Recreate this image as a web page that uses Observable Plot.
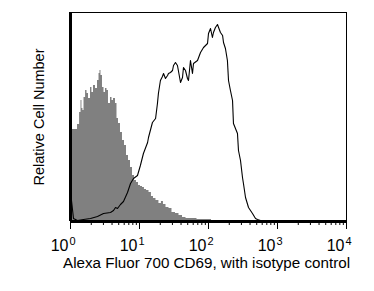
<!DOCTYPE html>
<html><head><meta charset="utf-8">
<script src="https://cdn.jsdelivr.net/npm/d3@7"></script>
<script src="https://cdn.jsdelivr.net/npm/@observablehq/plot@0.6"></script>
<style>html,body{margin:0;padding:0;background:#fff}</style>
</head><body><div id="chart"></div>
<script>
// Isotype control (gray filled histogram)
const isotypeIntensity = [1.0, 1.034, 1.105, 1.22, 1.31, 1.40, 1.44, 1.49, 1.54, 1.60, 1.71, 1.76, 1.89, 2.01, 2.08, 2.23, 2.38, 2.55, 2.63, 2.72, 2.81, 3.01, 3.11, 3.32, 3.44, 3.67, 3.93, 4.06, 4.34, 4.64, 4.80, 5.13, 5.48, 5.86, 6.27, 6.70, 7.16, 7.66, 8.19, 8.75, 9.35, 10.0, 10.7, 11.4, 12.2, 13.1, 14.4, 15.4, 16.5, 18.2, 20.1, 21.5, 23.0, 25.5, 28.1, 31.1, 35.5, 39.3, 44.9, 49.6, 60.6, 76.6, 96.8, 126, 176, 246];
const isotypeCount = [90, 90, 92, 92, 97, 109, 121, 113, 111, 124, 131, 128, 123, 134, 129, 136, 133, 141, 148, 151, 146, 134, 129, 133, 131, 118, 124, 121, 123, 118, 103, 98, 89, 81, 76, 66, 61, 54, 46, 41, 39, 36, 35, 34, 32, 31, 29, 25, 23, 21, 18, 20, 17, 14, 13, 9, 8, 6, 4, 3, 3, 2, 2, 1, 1, 0];

// Alexa Fluor 700 CD69 (black outline)
const cd69Intensity = [1.034, 1.105, 1.26, 1.54, 1.95, 2.46, 3.01, 3.80, 4.20, 4.49, 4.80, 5.30, 5.86, 6.70, 7.41, 8.19, 9.35, 10.3, 11.4, 13.1, 13.5, 15.4, 17.1, 18.2, 18.8, 20.1, 21.5, 22.3, 23.8, 25.5, 26.3, 28.1, 30.1, 31.1, 33.2, 35.5, 39.3, 42.0, 43.4, 46.4, 49.6, 51.3, 54.8, 58.6, 60.6, 69.3, 76.6, 84.7, 96.8, 100, 107, 114, 118, 126, 135, 140, 149, 160, 165, 176, 188, 195, 208, 223, 230, 263, 272, 291, 311, 321, 344, 380, 434, 480, 513, 567, 627];
const cd69Count = [21, 3, 1, 2, 3, 5, 8, 9, 11, 14, 13, 17, 20, 29, 38, 43, 46, 56, 68, 79, 84, 99, 103, 118, 128, 141, 145, 148, 143, 146, 148, 149, 151, 156, 159, 156, 139, 144, 154, 151, 143, 141, 161, 148, 158, 161, 169, 174, 178, 188, 193, 184, 189, 194, 197, 194, 189, 186, 179, 173, 161, 141, 131, 121, 98, 88, 71, 61, 44, 38, 24, 14, 8, 3, 2, 1, 0];

const decadeExponents = [0, 1, 2, 3, 4];
const tickBase = "10";
const xTitle = "Alexa Fluor 700 CD69, with isotype control";
const yTitle = "Relative Cell Number";

const iso = isotypeIntensity.map((x, i) => ({x, y: isotypeCount[i]}));
const cd = cd69Intensity.map((x, i) => ({x, y: cd69Count[i]}));
const majors = decadeExponents.map(e => ({e, v: 10 ** e}));
const minors = [];
for (const e of decadeExponents.slice(0, -1)) for (let m = 2; m <= 9; m++) minors.push(m * 10 ** e);

const font = "'Liberation Sans', Arial, sans-serif";
const chart = Plot.plot({
  width: 374, height: 291,
  marginLeft: 70, marginRight: 28, marginTop: 12, marginBottom: 70,
  style: {fontFamily: font, background: "#fff", color: "#000"},
  x: {type: "log", domain: [1, 1e4], axis: null},
  y: {domain: [0, 209], axis: null},
  marks: [
    Plot.areaY(iso, {x: "x", y: "y", fill: "#808080", curve: "step"}),
    Plot.line(cd, {x: "x", y: "y", stroke: "#000", strokeWidth: 1.1}),
    Plot.frame({stroke: "#000", strokeWidth: 1}),
    Plot.axisX(minors, {tickSize: 4, tickFormat: () => "", label: null, strokeWidth: 1}),
    Plot.axisX(majors.map(d => d.v), {tickSize: 8, tickFormat: () => "", label: null, strokeWidth: 1}),
    Plot.ruleX([1], {stroke: "#000", strokeWidth: 3}),
    Plot.ruleY([0], {stroke: "#000", strokeWidth: 3}),
    Plot.text(majors, {x: "v", frameAnchor: "bottom", text: () => tickBase, textAnchor: "end", dx: -2, dy: 29, fontSize: 16, fill: "#000"}),
    Plot.text(majors, {x: "v", frameAnchor: "bottom", text: d => String(d.e), textAnchor: "start", dx: -1, dy: 23.5, fontSize: 11, fill: "#000"}),
    Plot.text([xTitle], {frameAnchor: "bottom", text: d => d, textAnchor: "middle", dx: -2, dy: 46.5, fontSize: 15.2, fill: "#000"}),
    Plot.text([yTitle], {frameAnchor: "left", text: d => d, textAnchor: "middle", rotate: -90, dx: -31.5, fontSize: 14.5, fill: "#000"})
  ]
});
document.getElementById("chart").appendChild(chart);
</script>
</body></html>
